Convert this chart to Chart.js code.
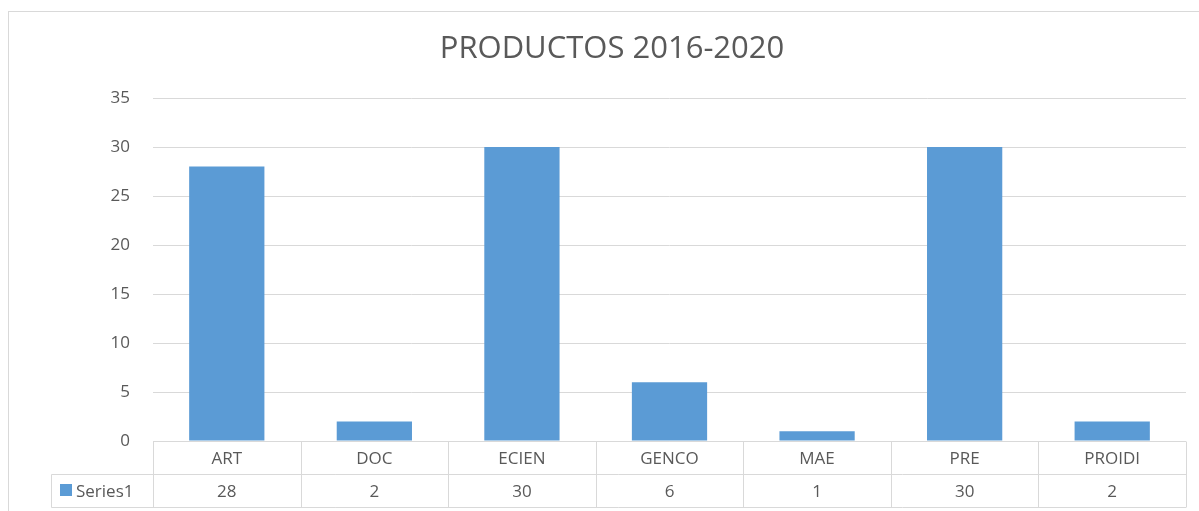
<!DOCTYPE html>
<html>
<head>
<meta charset="utf-8">
<script src="https://cdn.jsdelivr.net/npm/chart.js@4"></script>
<style>
  html, body { margin: 0; padding: 0; background: #fff; }
  #wrap { width: 1199px; height: 511px; position: relative; }
</style>
</head>
<body>
<div id="wrap"><canvas id="productosChart"></canvas></div>
<script>
// --- Datos del gráfico ---
const categorias = ['ART', 'DOC', 'ECIEN', 'GENCO', 'MAE', 'PRE', 'PROIDI'];
const series1 = [28, 2, 30, 6, 1, 30, 2];
const nombreSerie = 'Series1';
const titulo = 'PRODUCTOS 2016-2020';

const colorBarra = '#5B9BD5';
const colorTexto = '#595959';
const colorLinea = '#d9d9d9';
const fuente = '"Open Sans", "Liberation Sans", sans-serif';

// Marco, título y tabla de datos (estilo Excel)
const tablaDatos = {
    id: 'tablaDatos',
    beforeDraw(chart) {
        const ctx = chart.ctx;
        ctx.save();
        ctx.fillStyle = '#fff';
        ctx.fillRect(0, 0, chart.width, chart.height);
        ctx.strokeStyle = colorLinea;
        ctx.lineWidth = 1;
        ctx.strokeRect(8.5, 11.5, chart.width + 20, chart.height + 20);
        ctx.restore();
    },
    afterDraw(chart) {
        const ctx = chart.ctx;
        const x = chart.scales.x;
        const area = chart.chartArea;
        const top = Math.round(area.bottom) + 0.5;
        const mid = top + 33;
        const bot = mid + 33;
        const izq = 51.5;
        const paso = (area.right - area.left) / categorias.length;

        ctx.save();
        // título
        ctx.fillStyle = colorTexto;
        ctx.font = '31px ' + fuente;
        ctx.textAlign = 'center';
        ctx.textBaseline = 'middle';
        ctx.fillText(titulo, 612, 49);

        // líneas de la tabla
        ctx.strokeStyle = colorLinea;
        ctx.lineWidth = 1;
        ctx.beginPath();
        ctx.moveTo(area.left, top); ctx.lineTo(area.right, top);
        ctx.moveTo(izq, mid); ctx.lineTo(area.right, mid);
        ctx.moveTo(izq, bot); ctx.lineTo(area.right, bot);
        ctx.moveTo(izq, mid); ctx.lineTo(izq, bot);
        for (let i = 0; i <= categorias.length; i++) {
            const px = Math.round(area.left + i * paso) + 0.5;
            ctx.moveTo(px, top); ctx.lineTo(px, bot);
        }
        ctx.stroke();

        // textos
        ctx.font = '17px ' + fuente;
        ctx.fillStyle = colorTexto;
        categorias.forEach((c, i) => {
            const cx = x.getPixelForValue(i);
            ctx.fillText(c, cx, (top + mid) / 2 + 1);
            ctx.fillText(String(series1[i]), cx, (mid + bot) / 2 + 1);
        });

        // leyenda
        ctx.fillStyle = colorBarra;
        ctx.fillRect(60, 484, 12, 12);
        ctx.fillStyle = colorTexto;
        ctx.textAlign = 'left';
        ctx.fillText(nombreSerie, 76, (mid + bot) / 2 + 1);
        ctx.restore();
    }
};

new Chart(document.getElementById('productosChart'), {
    type: 'bar',
    data: {
        labels: categorias,
        datasets: [{
            label: nombreSerie,
            data: series1,
            backgroundColor: colorBarra,
            borderWidth: 0,
            categoryPercentage: 1,
            barPercentage: 0.51
        }]
    },
    options: {
        responsive: true,
        maintainAspectRatio: false,
        animation: false,
        layout: { padding: { left: 0, right: 13, top: 98, bottom: 70 } },
        scales: {
            x: { display: false },
            y: {
                min: 0,
                max: 35,
                afterFit(scale) { scale.width = 153; },
                border: { display: false },
                grid: { color: colorLinea, drawTicks: false },
                ticks: {
                    stepSize: 5,
                    padding: 23,
                    color: colorTexto,
                    font: { family: fuente, size: 17 }
                }
            }
        },
        plugins: {
            legend: { display: false },
            title: { display: false },
            tooltip: { enabled: false }
        }
    },
    plugins: [tablaDatos]
});
</script>
</body>
</html>
